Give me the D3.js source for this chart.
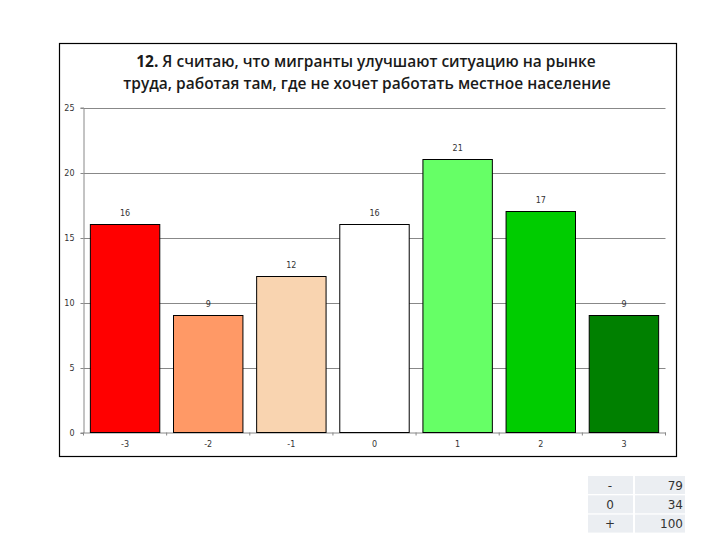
<!DOCTYPE html>
<html><head><meta charset="utf-8">
<script src="https://cdn.jsdelivr.net/npm/d3@7"></script>
<style>body{margin:0;background:#fff}</style>
</head><body>
<svg id="c" width="720" height="540"></svg>
<script>
const categories = ["-3","-2","-1","0","1","2","3"];
const values = [16, 9, 12, 16, 21, 17, 9];
const colors = ["#ff0000","#ff9966","#f9d4b0","#ffffff","#66ff66","#00cc00","#008000"];
const yTicks = [0,5,10,15,20,25];
const titleLines = ["Я считаю, что мигранты улучшают ситуацию на рынке", "труда, работая там, где не хочет работать местное население"];
const titleNum = "12.";
const tableLabels = ["-","0","+"];
const tableValues = [79, 34, 100];

(function(){
const svg = d3.select("#c");
// frame
svg.append("rect").attr("x",59.5).attr("y",43.5).attr("width",617).attr("height",413)
  .attr("fill","#fff").attr("stroke","#000").attr("stroke-width",1.2);

const pLeft = 83.5, pRight = 665.5, pTop = 107.5, pBottom = 432.5;
const x = d3.scaleBand().domain(categories).range([pLeft,pRight]).paddingInner(0.165).paddingOuter(0.0825);
const y = d3.scaleLinear().domain([0,25]).range([pBottom,pTop]);

// title
const t = svg.append("text").attr("x",366).attr("y",67).attr("text-anchor","middle")
  .attr("font-family","Open Sans, sans-serif").attr("font-size",15.5).attr("font-weight",600).attr("fill","#1a1a1a");
t.append("tspan").attr("font-weight",700).text(titleNum + " ");
t.append("tspan").text(titleLines[0]);
svg.append("text").attr("x",367).attr("y",89).attr("text-anchor","middle")
  .attr("font-family","Open Sans, sans-serif").attr("font-size",15.5).attr("font-weight",600).attr("fill","#1a1a1a")
  .text(titleLines[1]);

// gridlines
svg.append("g").selectAll("line").data(yTicks.filter(d=>d>0)).join("line")
  .attr("x1",pLeft).attr("x2",pRight).attr("y1",d=>Math.round(y(d))+0.5).attr("y2",d=>Math.round(y(d))+0.5)
  .attr("stroke","#888").attr("stroke-width",1);

// y axis
const ya = svg.append("g").attr("transform",`translate(${pLeft},0)`)
  .call(d3.axisLeft(y).tickValues(yTicks).tickSize(3).tickPadding(6));
ya.select(".domain").attr("stroke","#888");
ya.selectAll(".tick line").attr("stroke","#888");
ya.selectAll("text").attr("font-family","DejaVu Sans, sans-serif").attr("font-size",8).attr("fill","#333");
ya.selectAll(".tick").attr("transform",d=>`translate(0,${Math.round(y(d))+0.5})`);

// x axis
const xa = svg.append("g").attr("transform",`translate(0,${pBottom})`)
  .call(d3.axisBottom(x).tickSize(0).tickPadding(9));
xa.select(".domain").attr("stroke","#888");
xa.selectAll("text").attr("font-family","DejaVu Sans, sans-serif").attr("font-size",8).attr("fill","#333");
// tick marks at band boundaries
const bounds = categories.map(c=>x(c)-x.step()*x.paddingInner()/2).concat([pRight]);
svg.append("g").selectAll("line").data(bounds).join("line")
  .attr("x1",d=>d).attr("x2",d=>d).attr("y1",pBottom).attr("y2",pBottom+3).attr("stroke","#888");

// bars
svg.append("g").selectAll("rect").data(values).join("rect")
  .attr("x",(d,i)=>x(categories[i])).attr("width",x.bandwidth())
  .attr("y",d=>y(d)).attr("height",d=>pBottom-y(d))
  .attr("fill",(d,i)=>colors[i]).attr("stroke","#000").attr("stroke-width",1);

// value labels
svg.append("g").selectAll("text").data(values).join("text")
  .attr("x",(d,i)=>x(categories[i])+x.bandwidth()/2).attr("y",d=>y(d)-9)
  .attr("text-anchor","middle").attr("font-family","DejaVu Sans, sans-serif").attr("font-size",8).attr("fill","#333")
  .text(d=>d);

// table
const tg = svg.append("g");
tableLabels.forEach((lab,i)=>{
  const ry = 476 + i*19.3;
  tg.append("rect").attr("x",588).attr("y",ry).attr("width",45).attr("height",18).attr("fill","#ebeef2");
  tg.append("rect").attr("x",635).attr("y",ry).attr("width",50).attr("height",18).attr("fill","#ebeef2");
  tg.append("text").attr("x",610).attr("y",ry+13.5).attr("text-anchor","middle")
    .attr("font-family","DejaVu Sans, sans-serif").attr("font-size",12).attr("fill","#333").text(lab);
  tg.append("text").attr("x",683).attr("y",ry+13.5).attr("text-anchor","end")
    .attr("font-family","DejaVu Sans, sans-serif").attr("font-size",12).attr("fill","#333").text(tableValues[i]);
});
})();
</script>
</body></html>
